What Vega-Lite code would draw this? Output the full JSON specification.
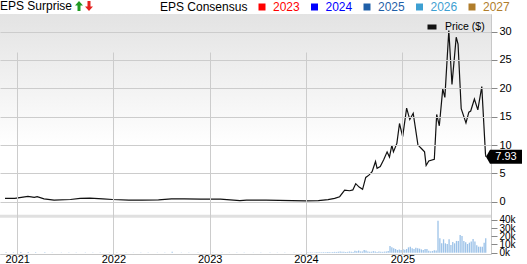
{
  "$schema": "https://vega.github.io/schema/vega-lite/v6.json",
  "width": 491,
  "height": 240,
  "autosize": {"type": "none"},
  "padding": {"left": 0, "top": 14, "right": 36, "bottom": 10},
  "config": {
    "font": "Liberation Sans",
    "view": {"stroke": "#c8c8c8"},
    "axis": {"labelFont": "Liberation Sans", "labelColor": "#000000", "domain": false, "gridColor": "#cccccc", "tickColor": "#888888", "labelOverlap": false, "labelFlush": false, "labelBound": false},
    "legend": {"labelFont": "Liberation Sans", "titleFont": "Liberation Sans"}
  },
  "datasets": {
    "price": [
      {"date": "2020-11-16", "price": 0.6}, {"date": "2020-12-23", "price": 0.6}, {"date": "2021-01-17", "price": 0.77},
      {"date": "2021-02-11", "price": 0.95}, {"date": "2021-03-07", "price": 0.77}, {"date": "2021-03-18", "price": 0.9},
      {"date": "2021-04-13", "price": 0.53}, {"date": "2021-05-21", "price": 0.3}, {"date": "2021-07-22", "price": 0.41},
      {"date": "2021-08-28", "price": 0.6}, {"date": "2021-10-04", "price": 0.65}, {"date": "2021-11-22", "price": 0.53},
      {"date": "2021-12-29", "price": 0.41}, {"date": "2022-03-01", "price": 0.3}, {"date": "2022-04-20", "price": 0.3},
      {"date": "2022-06-21", "price": 0.35}, {"date": "2022-08-09", "price": 0.53}, {"date": "2022-09-27", "price": 0.53},
      {"date": "2022-11-28", "price": 0.47}, {"date": "2023-02-11", "price": 0.47}, {"date": "2023-04-26", "price": 0.2},
      {"date": "2023-05-21", "price": 0.3}, {"date": "2023-08-03", "price": 0.3}, {"date": "2023-11-10", "price": 0.2},
      {"date": "2023-12-31", "price": 0.15}, {"date": "2024-02-17", "price": 0.2}, {"date": "2024-03-25", "price": 0.4},
      {"date": "2024-04-19", "price": 0.6}, {"date": "2024-05-08", "price": 0.9}, {"date": "2024-05-27", "price": 2.06},
      {"date": "2024-06-15", "price": 1.95}, {"date": "2024-06-27", "price": 2.1}, {"date": "2024-07-08", "price": 3.2},
      {"date": "2024-07-21", "price": 2.6}, {"date": "2024-08-03", "price": 2.2}, {"date": "2024-08-15", "price": 4.3},
      {"date": "2024-08-27", "price": 4.7}, {"date": "2024-09-08", "price": 5.3}, {"date": "2024-09-21", "price": 7.1},
      {"date": "2024-09-27", "price": 5.9}, {"date": "2024-10-09", "price": 6.2}, {"date": "2024-10-22", "price": 7.4},
      {"date": "2024-11-04", "price": 8.8}, {"date": "2024-11-13", "price": 7.9}, {"date": "2024-11-22", "price": 10.0},
      {"date": "2024-11-28", "price": 8.8}, {"date": "2024-12-11", "price": 10.3}, {"date": "2024-12-21", "price": 13.8},
      {"date": "2025-01-02", "price": 11.5}, {"date": "2025-01-17", "price": 16.5}, {"date": "2025-01-29", "price": 14.5},
      {"date": "2025-02-11", "price": 15.6}, {"date": "2025-03-01", "price": 10.0}, {"date": "2025-03-14", "price": 9.4},
      {"date": "2025-03-26", "price": 8.8}, {"date": "2025-04-01", "price": 6.4}, {"date": "2025-04-11", "price": 7.2},
      {"date": "2025-05-02", "price": 7.5}, {"date": "2025-05-11", "price": 15.4}, {"date": "2025-05-21", "price": 13.4},
      {"date": "2025-06-03", "price": 19.9}, {"date": "2025-06-11", "price": 18.4}, {"date": "2025-06-26", "price": 30.2},
      {"date": "2025-07-08", "price": 20.7}, {"date": "2025-07-24", "price": 29.0}, {"date": "2025-07-31", "price": 27.8},
      {"date": "2025-08-12", "price": 16.4}, {"date": "2025-08-30", "price": 13.9}, {"date": "2025-09-10", "price": 15.8},
      {"date": "2025-09-17", "price": 16.0}, {"date": "2025-10-01", "price": 18.1}, {"date": "2025-10-14", "price": 16.2},
      {"date": "2025-10-29", "price": 20.3}, {"date": "2025-11-12", "price": 8.4}, {"date": "2025-11-14", "price": 7.93}
    ],
    "last": [{"date": "2025-11-14", "price": 7.93, "label": "7.93"}],
    "volume": [
      {"date": "2020-11-20", "volume": 400}, {"date": "2020-12-18", "volume": 500}, {"date": "2021-01-15", "volume": 800},
      {"date": "2021-02-12", "volume": 900}, {"date": "2021-03-12", "volume": 600}, {"date": "2021-04-16", "volume": 400},
      {"date": "2021-05-14", "volume": 300}, {"date": "2021-06-18", "volume": 300}, {"date": "2021-07-16", "volume": 250},
      {"date": "2021-08-13", "volume": 300}, {"date": "2021-09-17", "volume": 350}, {"date": "2021-10-15", "volume": 300},
      {"date": "2021-11-12", "volume": 250}, {"date": "2021-12-17", "volume": 250}, {"date": "2022-01-14", "volume": 300},
      {"date": "2022-02-18", "volume": 250}, {"date": "2022-03-18", "volume": 200}, {"date": "2022-04-15", "volume": 250},
      {"date": "2022-05-13", "volume": 300}, {"date": "2022-06-17", "volume": 250}, {"date": "2022-07-15", "volume": 300},
      {"date": "2022-08-12", "volume": 1100}, {"date": "2022-09-16", "volume": 300}, {"date": "2022-10-14", "volume": 250},
      {"date": "2022-11-18", "volume": 200}, {"date": "2022-12-16", "volume": 250}, {"date": "2023-01-13", "volume": 300},
      {"date": "2023-02-17", "volume": 250}, {"date": "2023-03-17", "volume": 200}, {"date": "2023-04-14", "volume": 300},
      {"date": "2023-05-12", "volume": 250}, {"date": "2023-06-16", "volume": 200}, {"date": "2023-07-14", "volume": 250},
      {"date": "2023-08-18", "volume": 200}, {"date": "2023-09-15", "volume": 250}, {"date": "2023-10-13", "volume": 200},
      {"date": "2023-11-17", "volume": 300}, {"date": "2023-12-15", "volume": 250},
      {"date": "2024-01-05", "volume": 400}, {"date": "2024-01-12", "volume": 300}, {"date": "2024-01-19", "volume": 500},
      {"date": "2024-01-26", "volume": 400}, {"date": "2024-02-02", "volume": 300}, {"date": "2024-02-09", "volume": 400},
      {"date": "2024-02-16", "volume": 500}, {"date": "2024-02-23", "volume": 600}, {"date": "2024-03-01", "volume": 500},
      {"date": "2024-03-08", "volume": 700}, {"date": "2024-03-15", "volume": 600}, {"date": "2024-03-22", "volume": 800},
      {"date": "2024-03-29", "volume": 700}, {"date": "2024-04-05", "volume": 600}, {"date": "2024-04-12", "volume": 800},
      {"date": "2024-04-19", "volume": 1000}, {"date": "2024-04-26", "volume": 900}, {"date": "2024-05-03", "volume": 1200},
      {"date": "2024-05-10", "volume": 1500}, {"date": "2024-05-17", "volume": 1300}, {"date": "2024-05-24", "volume": 1100},
      {"date": "2024-05-31", "volume": 900}, {"date": "2024-06-07", "volume": 1000}, {"date": "2024-06-14", "volume": 1400},
      {"date": "2024-06-21", "volume": 1200}, {"date": "2024-06-28", "volume": 1000}, {"date": "2024-07-05", "volume": 2400},
      {"date": "2024-07-12", "volume": 1800}, {"date": "2024-07-19", "volume": 2600}, {"date": "2024-07-26", "volume": 1500},
      {"date": "2024-08-02", "volume": 1600}, {"date": "2024-08-09", "volume": 3200}, {"date": "2024-08-16", "volume": 2800},
      {"date": "2024-08-23", "volume": 1500}, {"date": "2024-08-30", "volume": 1200}, {"date": "2024-09-06", "volume": 1200},
      {"date": "2024-09-13", "volume": 1800}, {"date": "2024-09-20", "volume": 1400}, {"date": "2024-09-27", "volume": 1000},
      {"date": "2024-10-04", "volume": 1500}, {"date": "2024-10-11", "volume": 1200}, {"date": "2024-10-18", "volume": 1000},
      {"date": "2024-10-25", "volume": 1300}, {"date": "2024-11-01", "volume": 1600}, {"date": "2024-11-08", "volume": 2000},
      {"date": "2024-11-15", "volume": 8000}, {"date": "2024-11-22", "volume": 6500}, {"date": "2024-11-29", "volume": 5300},
      {"date": "2024-12-06", "volume": 4500}, {"date": "2024-12-13", "volume": 3300}, {"date": "2024-12-20", "volume": 4000},
      {"date": "2024-12-27", "volume": 3300}, {"date": "2025-01-03", "volume": 4500}, {"date": "2025-01-10", "volume": 3700},
      {"date": "2025-01-17", "volume": 4500}, {"date": "2025-01-24", "volume": 6500}, {"date": "2025-01-31", "volume": 7300},
      {"date": "2025-02-07", "volume": 5300}, {"date": "2025-02-14", "volume": 4500}, {"date": "2025-02-21", "volume": 6000},
      {"date": "2025-02-28", "volume": 5300}, {"date": "2025-03-07", "volume": 4900}, {"date": "2025-03-14", "volume": 4000},
      {"date": "2025-03-21", "volume": 3300}, {"date": "2025-03-28", "volume": 4500}, {"date": "2025-04-04", "volume": 4500},
      {"date": "2025-04-11", "volume": 2400}, {"date": "2025-04-18", "volume": 1600}, {"date": "2025-04-25", "volume": 2000},
      {"date": "2025-05-02", "volume": 2900}, {"date": "2025-05-09", "volume": 2600}, {"date": "2025-05-16", "volume": 38800},
      {"date": "2025-05-23", "volume": 17500}, {"date": "2025-05-30", "volume": 11400}, {"date": "2025-06-06", "volume": 16300},
      {"date": "2025-06-13", "volume": 11400}, {"date": "2025-06-20", "volume": 10600}, {"date": "2025-06-27", "volume": 16300},
      {"date": "2025-07-04", "volume": 9400}, {"date": "2025-07-11", "volume": 13000}, {"date": "2025-07-18", "volume": 11400},
      {"date": "2025-07-25", "volume": 14300}, {"date": "2025-08-01", "volume": 14300}, {"date": "2025-08-08", "volume": 21600},
      {"date": "2025-08-15", "volume": 20400}, {"date": "2025-08-22", "volume": 14300}, {"date": "2025-08-29", "volume": 12700},
      {"date": "2025-09-05", "volume": 10600}, {"date": "2025-09-12", "volume": 12200}, {"date": "2025-09-19", "volume": 13500},
      {"date": "2025-09-26", "volume": 16700}, {"date": "2025-10-03", "volume": 13500}, {"date": "2025-10-10", "volume": 9000},
      {"date": "2025-10-17", "volume": 7300}, {"date": "2025-10-24", "volume": 7300}, {"date": "2025-10-31", "volume": 7300},
      {"date": "2025-11-07", "volume": 12200}, {"date": "2025-11-13", "volume": 17500}
    ],
    "consensus": [{"year": "2023"}, {"year": "2024"}, {"year": "2025"}, {"year": "2026"}, {"year": "2027"}],
    "surprise": [{"dir": "up"}, {"dir": "down"}]
  },
  "resolve": {"scale": {"y": "independent"}, "axis": {"y": "independent"}},
  "layer": [
    {
      "data": {"name": "last"},
      "mark": {"type": "rect", "fill": {"gradient": "linear", "x1": 0, "y1": 0, "x2": 0, "y2": 1,
        "stops": [{"offset": 0, "color": "#e3e3e3"}, {"offset": 0.55, "color": "#ffffff"}, {"offset": 1, "color": "#ffffff"}]}},
      "encoding": {}
    },
    {
      "layer": [
        {
          "data": {"name": "price"},
          "mark": {"type": "line", "strokeWidth": 1.2, "interpolate": "linear"},
          "encoding": {
            "x": {"field": "date", "type": "temporal",
              "scale": {"type": "utc", "domain": [{"year": 2020, "month": 11, "date": 16, "utc": true}, {"year": 2025, "month": 11, "date": 14, "utc": true}]},
              "axis": {"orient": "bottom", "title": null, "grid": true, "zindex": 1, "ticks": false, "labelPadding": -1, "labelFontSize": 11, "format": "%Y", "tickCount": 10,
                "values": [{"year": 2021, "month": 1, "date": 1, "utc": true}, {"year": 2022, "month": 1, "date": 1, "utc": true}, {"year": 2023, "month": 1, "date": 1, "utc": true}, {"year": 2024, "month": 1, "date": 1, "utc": true}, {"year": 2025, "month": 1, "date": 1, "utc": true}]}},
            "y": {"field": "price", "type": "quantitative",
              "scale": {"domain": [-2.5, 33.1], "range": [202, 0], "zero": false, "nice": false},
              "axis": {"orient": "right", "title": null, "values": [0, 5, 10, 15, 20, 25, 30], "tickCount": 10, "grid": true, "zindex": 1, "tickSize": 6, "labelPadding": 2, "labelFontSize": 11}},
            "stroke": {"datum": "Price ($)", "scale": {"range": ["#111111"]},
              "legend": {"title": null, "orient": "none", "legendX": 425, "legendY": 6, "padding": 0, "symbolType": "M-1,0H1", "symbolSize": 81, "symbolStrokeWidth": 5, "labelOffset": 6, "labelFontSize": 10.5, "labelColor": "#000000"}}
          }
        },
        {
          "data": {"name": "last"},
          "mark": {"type": "rule", "color": "#e0e0e0", "strokeWidth": 3},
          "encoding": {"y": {"datum": -2.55, "type": "quantitative"}}
        },
        {
          "data": {"name": "last"},
          "mark": {"type": "point", "filled": true, "opacity": 1, "color": "#000000", "strokeWidth": 0, "size": 1296,
            "shape": "M0,0L0.222,-0.389L2,-0.389L2,0.389L0.222,0.389Z"},
          "encoding": {
            "x": {"field": "date", "type": "temporal"},
            "y": {"field": "price", "type": "quantitative"}
          }
        },
        {
          "data": {"name": "last"},
          "mark": {"type": "text", "color": "#ffffff", "fontSize": 11, "dx": 20, "align": "center", "baseline": "middle"},
          "encoding": {
            "x": {"field": "date", "type": "temporal"},
            "y": {"field": "price", "type": "quantitative"},
            "text": {"field": "label"}
          }
        },
        {
          "data": {"name": "surprise"},
          "transform": [{"filter": "false"}],
          "mark": {"type": "point", "filled": true, "opacity": 1},
          "encoding": {
            "color": {"field": "dir", "type": "nominal", "scale": {"domain": ["up", "down"], "range": ["#1f9a23", "#e4231f"]},
              "legend": {"title": "EPS Surprise", "orient": "none", "legendX": 0, "legendY": -13, "direction": "horizontal", "padding": 0,
                "titleOrient": "left", "titleFontSize": 12, "titleFontWeight": "normal", "titleColor": "#000000", "titlePadding": 1,
                "symbolSize": 100, "symbolStrokeWidth": 0, "symbolOpacity": 1, "labelExpr": "''", "labelOffset": 0, "columnPadding": 0}},
            "shape": {"field": "dir", "type": "nominal", "scale": {"domain": ["up", "down"],
              "range": ["M0,-1L0.8,-0.1L0.3,-0.1L0.3,1L-0.3,1L-0.3,-0.1L-0.8,-0.1Z", "M0,1L0.8,0.1L0.3,0.1L0.3,-1L-0.3,-1L-0.3,0.1L-0.8,0.1Z"]}}
          }
        },
        {
          "data": {"name": "consensus"},
          "transform": [{"filter": "false"}],
          "mark": {"type": "square", "opacity": 1},
          "encoding": {
            "fill": {"field": "year", "type": "nominal",
              "scale": {"domain": ["2023", "2024", "2025", "2026", "2027"], "range": ["#ff0000", "#0000ff", "#1f5fa8", "#3ea0d2", "#b07d2b"]},
              "legend": {"title": "EPS Consensus", "orient": "none", "legendX": 160, "legendY": -13, "direction": "horizontal", "padding": 0,
                "titleOrient": "left", "titleFontSize": 12, "titleFontWeight": "normal", "titleColor": "#000000", "titlePadding": 8,
                "symbolType": "square", "symbolSize": 49, "symbolStrokeWidth": 0, "symbolOpacity": 1, "labelFontSize": 12, "labelOffset": 5, "columnPadding": 8.5,
                "labelColor": {"expr": "datum.label == '2023' ? '#ff0000' : datum.label == '2024' ? '#0000ff' : datum.label == '2025' ? '#1f5fa8' : datum.label == '2026' ? '#3ea0d2' : '#b07d2b'"}}}
          }
        }
      ]
    },
    {
      "data": {"name": "volume"},
      "mark": {"type": "bar", "color": "#9cc2e8", "size": 1.3},
      "encoding": {
        "x": {"field": "date", "type": "temporal",
          "scale": {"type": "utc", "domain": [{"year": 2020, "month": 11, "date": 16, "utc": true}, {"year": 2025, "month": 11, "date": 14, "utc": true}]}},
        "y": {"field": "volume", "type": "quantitative",
          "scale": {"domain": [0, 40000], "range": [238.7, 205.8], "zero": true, "nice": false},
          "axis": {"orient": "right", "values": [0, 10000, 20000, 30000, 40000], "tickCount": 10, "format": "~s", "grid": false, "tickSize": 6, "labelPadding": 2, "labelFontSize": 10,
            "title": "Volume", "titleAngle": 0, "titleAlign": "left", "titleBaseline": "middle", "titleX": -481, "titleY": 215.5,
            "titleColor": "#3d85c6", "titleFontSize": 12, "titleFontWeight": "normal", "titleFont": "Liberation Sans"}}
      }
    }
  ]
}
